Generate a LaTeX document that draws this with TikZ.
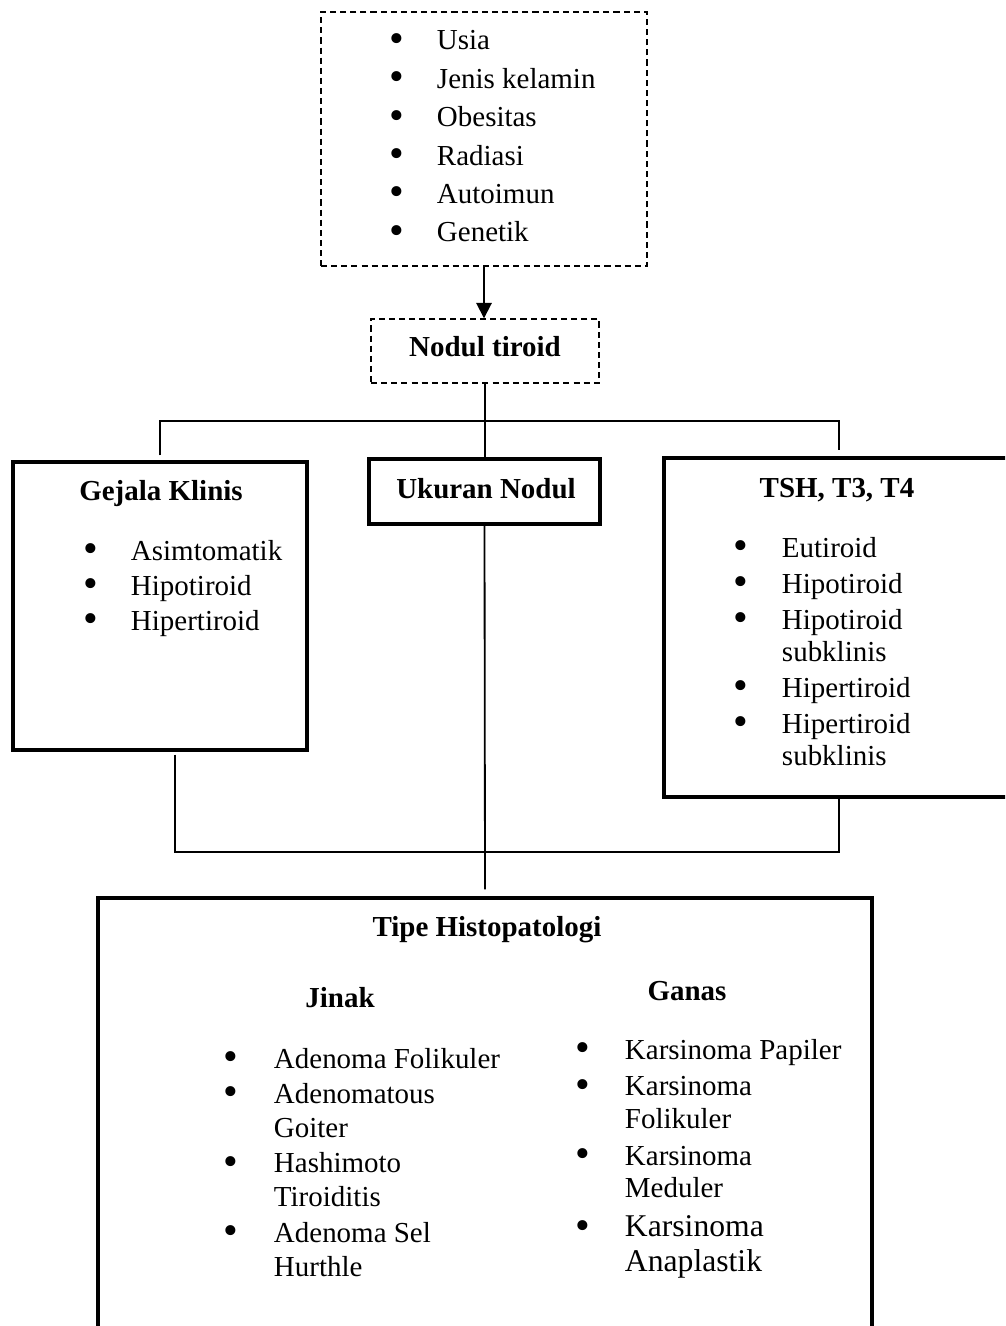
\documentclass[tikz,border=0pt]{standalone}
\usepackage{fontspec}
\setmainfont{Liberation Serif}
\usetikzlibrary{positioning, arrows.meta, fit}
\newlength{\px}
\setlength{\px}{0.025cm}
\newcommand{\bodysize}{\fontsize{20.6}{27.3}\selectfont}
\newcommand{\blt}{\smash{\raisebox{-0.08em}{\scalebox{1.45}{\textbullet}}}}

\begin{document}
\begin{tikzpicture}[
  x=0.025cm, y=-0.025cm,
  dashbox/.style={draw, line width=1pt, dash pattern=on 4.3pt off 2.9pt, inner sep=0pt},
  thickbox/.style={draw, line width=2.4pt, inner sep=0pt},
  conn/.style={line width=1.3pt},
  arr/.style={conn, -{Triangle[length=11pt, width=11pt]}},
  head/.style={anchor=base, inner sep=0pt, font=\bodysize\bfseries},
  blist/.style={anchor=base west, inner sep=0pt, align=left}
]
\useasboundingbox (0,0) rectangle (1005,1326);
\clip (0,0) rectangle (1005,1326);

% Boxes
\node[dashbox, fit={(321,12) (647,266)}] (faktor) {};
\node[dashbox, fit={(371,319) (599,383)}] (nodul) {};
\node[thickbox, fit={(13,462) (307,750)}] (gejala) {};
\node[thickbox, fit={(369,459) (600,524)}] (ukuran) {};
\node[thickbox, fit={(664,458) (1014,797)}] (tsh) {};
\node[thickbox, fit={(98,898) (872,1345)}] (tipe) {};

% Risk factors
\node[blist, font=\fontsize{20.6}{27.3}\selectfont] (faktorlist) at (389,50) {%
  \begin{tabular}[t]{@{}l@{\hspace{33\px}}l@{}}
    \blt & Usia\\
    \blt & Jenis kelamin\\
    \blt & Obesitas\\
    \blt & Radiasi\\
    \blt & Autoimun\\
    \blt & Genetik
  \end{tabular}};

% Titles
\node[head] (nodultxt) at (485,356) {Nodul tiroid};
\node[head] (gejalatxt) at (161,500) {Gejala Klinis};
\node[head] (ukurantxt) at (486,498) {Ukuran Nodul};
\node[head] (tshtxt) at (837,497) {TSH, T3, T4};
\node[head] (tipetxt) at (487,936) {Tipe Histopatologi};
\node[head] (jinaktxt) at (340,1007) {Jinak};
\node[head] (ganastxt) at (687,1000) {Ganas};

% Lists
\node[blist, font=\fontsize{20.6}{24.9}\selectfont] (gejalalist) at (83,560) {%
  \begin{tabular}[t]{@{}l@{\hspace{33\px}}l@{}}
    \blt & Asimtomatik\\
    \blt & Hipotiroid\\
    \blt & Hipertiroid
  \end{tabular}};

\node[blist, font=\fontsize{20.6}{23.1}\selectfont] (tshlist) at (733,557) {%
  \begin{tabular}[t]{@{}l@{\hspace{34\px}}l@{}}
    \blt & Eutiroid\\[2.5pt]
    \blt & Hipotiroid\\[2.5pt]
    \blt & Hipotiroid\\
         & subklinis\\[2.5pt]
    \blt & Hipertiroid\\[2.5pt]
    \blt & Hipertiroid\\
         & subklinis
  \end{tabular}};

\node[blist, font=\fontsize{20.6}{24.2}\selectfont] (jinaklist) at (223,1068) {%
  \begin{tabular}[t]{@{}l@{\hspace{36\px}}l@{}}
    \blt & Adenoma Folikuler\\[1pt]
    \blt & Adenomatous\\
         & Goiter\\[1pt]
    \blt & Hashimoto\\
         & Tiroiditis\\[1pt]
    \blt & Adenoma Sel\\
         & Hurthle
  \end{tabular}};

\node[blist, font=\fontsize{20.6}{23.1}\selectfont] (ganaslist) at (575,1059) {%
  \begin{tabular}[t]{@{}l@{\hspace{35\px}}l@{}}
    \blt & Karsinoma Papiler\\[3.2pt]
    \blt & Karsinoma\\
         & Folikuler\\[3.2pt]
    \blt & Karsinoma\\
         & Meduler\\[4.6pt]
    \blt & {\fontsize{22.5}{25}\selectfont Karsinoma}\\[1.8pt]
         & {\fontsize{22.5}{25}\selectfont Anaplastik}
  \end{tabular}};

% Connectors
\draw[arr] (faktor.south) -- (faktor.south |- nodul.north);
\coordinate (bar) at (485,421);
\draw[conn] (nodul.south) -- (nodul.south |- ukuran.north) -- +(0,-7);
\draw[conn] ([yshift=5\px]gejala.north) |- (bar) -| ([yshift=6\px]tsh.north);
\coordinate (join) at (485,852);
\draw[conn] ([xshift=15\px, yshift=-3\px]gejala.south) |- (join) -| (tsh.south);
\draw[conn] (ukuran.south) -- ([yshift=7\px]tipe.north);

\end{tikzpicture}
\end{document}
